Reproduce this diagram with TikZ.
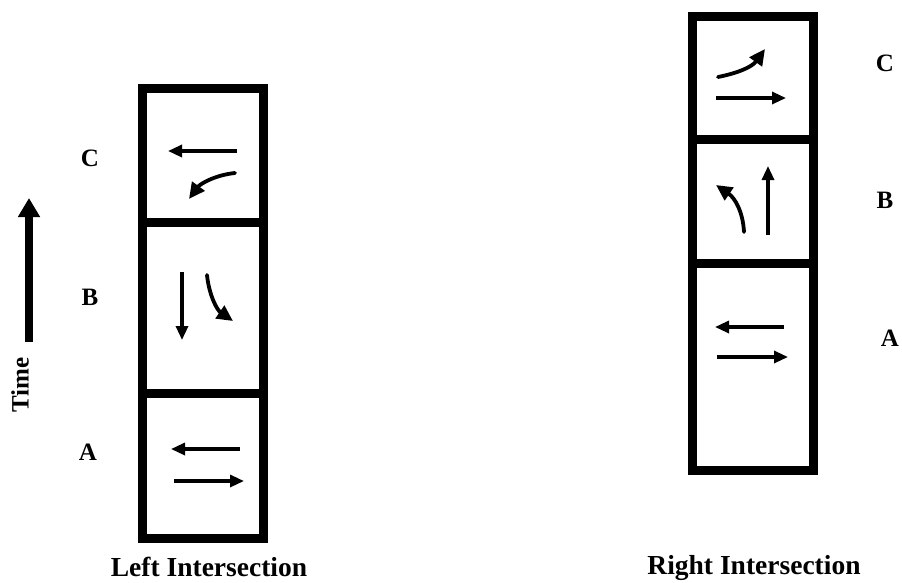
\documentclass[tikz,border=0pt]{standalone}
\usepackage{fontspec}
\setmainfont{Liberation Serif}
\usetikzlibrary{arrows.meta}
\tikzset{
  frame/.style={line width=9pt, line join=miter},
  move/.style={line width=3.2pt, -{Triangle[length=14pt,width=12pt]}},
  turn/.style={line width=3.8pt, line cap=round, -{Triangle[length=16pt,width=15pt]}},
  phase/.style={font=\fontsize{25}{25}\selectfont\bfseries},
  caption/.style={font=\fontsize{27.5}{27.5}\selectfont\bfseries, anchor=base}
}
\begin{document}
\begin{tikzpicture}[x=1pt,y=-1pt]
\useasboundingbox (0,0) rectangle (902,582);

% time axis
\coordinate (t0) at (29,342);
\coordinate (t1) at (29,198);
\draw[line width=8pt, -{Triangle[length=19pt,width=21pt]}] (t0) -- (t1);
\node[phase, rotate=90] (time) at (20,385) {Time};

% ---------- left intersection ----------
\draw[frame] (142,88) rectangle (263,538);
\draw[frame] (142,222) -- (263,222);
\draw[frame] (142,393) -- (263,393);

\node[phase] (lC) at (90,158) {C};
\node[phase] (lB) at (90,297) {B};
\node[phase] (lA) at (88,452) {A};

% phase C
\draw[move] (237,151) -- (168,151);
\draw[turn] (235,173) .. controls (215,175) and (200,184) .. (189,199);
% phase B
\draw[move] (182,272) -- (182,340);
\draw[turn] (207,275) .. controls (209,295) and (217,310) .. (233,321);
% phase A
\draw[move] (240,449) -- (171,449);
\draw[move] (174,481) -- (244,481);

\node[caption] (lcap) at (209,576) {Left Intersection};

% ---------- right intersection ----------
\draw[frame] (692,16) rectangle (813,470);
\draw[frame] (692,139) -- (813,139);
\draw[frame] (692,263) -- (813,263);

\node[phase] (rC) at (885,63) {C};
\node[phase] (rB) at (885,200) {B};
\node[phase] (rA) at (890,338) {A};

% phase C
\draw[turn] (718,77) .. controls (738,73) and (752,67) .. (765,49);
\draw[move] (716,98) -- (786,98);
% phase B
\draw[move] (768,235) -- (768,166);
\draw[turn] (744,232) .. controls (743,212) and (735,198) .. (716,185);
% phase A
\draw[move] (784,327) -- (715,327);
\draw[move] (717,357) -- (788,357);

\node[caption] (rcap) at (754,574) {Right Intersection};
\end{tikzpicture}
\end{document}
